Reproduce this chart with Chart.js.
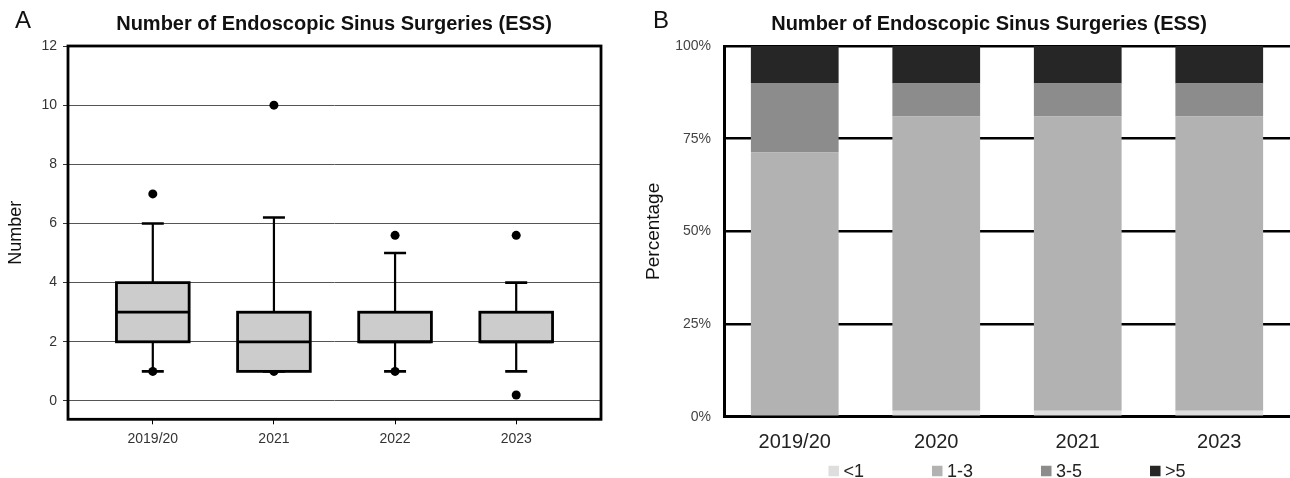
<!DOCTYPE html>
<html>
<head>
<meta charset="utf-8">
<title>Number of Endoscopic Sinus Surgeries (ESS)</title>
<script src="https://cdn.jsdelivr.net/npm/chart.js@4.4.1/dist/chart.umd.min.js"></script>
<style>
    html, body { margin: 0; padding: 0; background: #fff; }
    #wrap { position: relative; width: 1290px; height: 478px; overflow: hidden; }
    .panel { position: absolute; top: 0; height: 478px; }
    #panelA { left: 0; width: 640px; }
    #panelB { left: 640px; width: 650px; }
</style>
</head>
<body>
<div id="wrap">
    <div class="panel" id="panelA"><canvas id="chartA" width="640" height="478"></canvas></div>
    <div class="panel" id="panelB"><canvas id="chartB" width="650" height="478"></canvas></div>
</div>
<script>
// ---------- Panel A: box plot ----------
const yearsA = ['2019/20', '2021', '2022', '2023'];
const whiskerLow = [1, 1, 1, 1];
const q1 = [2, 1, 2, 2];
const median = [3, 2, 2, 2];
const q3 = [4, 3, 3, 3];
const whiskerHigh = [6, 6.2, 5, 4];
const outliers = [[7, 1], [10, 1], [5.6, 1], [5.6, 0.2]];

// ---------- Panel B: 100% stacked bars ----------
const yearsB = ['2019/20', '2020', '2021', '2023'];
const groupsB = ['<1', '1-3', '3-5', '>5'];
const shareLt1 = [0, 1.6, 1.6, 1.6];
const share1to3 = [71.3, 79.4, 79.4, 79.4];
const share3to5 = [18.7, 8.9, 8.9, 8.9];
const shareGt5 = [10, 10.1, 10.1, 10.1];

const TITLE = 'Number of Endoscopic Sinus Surgeries (ESS)';
Chart.defaults.font.family = "'Liberation Sans', Arial, Helvetica, sans-serif";

// 標題與面板字母
function headingPlugin(letter, letterX, titleX) {
    return {
        id: 'heading' + letter,
        afterDraw(chart) {
            const ctx = chart.ctx;
            ctx.save();
            ctx.fillStyle = '#111';
            ctx.textBaseline = 'middle';
            ctx.textAlign = 'center';
            ctx.font = "24px 'Liberation Sans', Arial, sans-serif";
            ctx.fillText(letter, letterX, 21);
            ctx.font = "bold 20px 'Liberation Sans', Arial, sans-serif";
            ctx.fillText(TITLE, titleX, 24);
            ctx.restore();
        }
    };
}

// 箱子外框、鬚線、中位數、繪圖區外框
const boxExtras = {
    id: 'boxExtras',
    afterDatasetsDraw(chart) {
        const ctx = chart.ctx;
        const xs = chart.scales.x, ys = chart.scales.y;
        const meta = chart.getDatasetMeta(0);
        ctx.save();
        ctx.strokeStyle = '#000';
        yearsA.forEach((_, i) => {
            const x = xs.getPixelForValue(i);
            const half = meta.data[i].width / 2;
            const cap = 11;
            const yHi = ys.getPixelForValue(whiskerHigh[i]);
            const yLo = ys.getPixelForValue(whiskerLow[i]);
            const yQ1 = ys.getPixelForValue(q1[i]);
            const yQ3 = ys.getPixelForValue(q3[i]);
            const yMed = ys.getPixelForValue(median[i]);
            ctx.lineWidth = 2.2;
            ctx.beginPath();
            ctx.moveTo(x, yQ3);
            ctx.lineTo(x, yHi);
            ctx.moveTo(x, yQ1);
            ctx.lineTo(x, yLo);
            ctx.stroke();
            ctx.lineWidth = 2.6;
            ctx.beginPath();
            ctx.moveTo(x - cap, yHi);
            ctx.lineTo(x + cap, yHi);
            ctx.moveTo(x - cap, yLo);
            ctx.lineTo(x + cap, yLo);
            ctx.stroke();
            ctx.lineWidth = 2.8;
            ctx.strokeRect(x - half, yQ3, half * 2, yQ1 - yQ3);
            ctx.beginPath();
            ctx.moveTo(x - half, yMed);
            ctx.lineTo(x + half, yMed);
            ctx.stroke();
        });
        const a = chart.chartArea;
        ctx.lineWidth = 2.8;
        ctx.strokeRect(a.left, a.top, a.right - a.left, a.bottom - a.top);
        ctx.restore();
    }
};

const boxData = yearsA.map((_, i) => ({ x: i, y: [q1[i], q3[i]] }));
const outlierData = [];
outliers.forEach((vals, i) => vals.forEach(v => outlierData.push({ x: i, y: v })));

new Chart(document.getElementById('chartA'), {
    type: 'bar',
    data: {
        datasets: [
            {
                type: 'bar', data: boxData, backgroundColor: '#cccccc', borderWidth: 0,
                barPercentage: 0.6, categoryPercentage: 1, order: 1
            },
            {
                type: 'scatter', data: outlierData, pointRadius: 4.5, pointBackgroundColor: '#000',
                pointBorderWidth: 0, order: 2
            }
        ]
    },
    options: {
        responsive: false,
        animation: false,
        layout: { padding: { top: 46, right: 39, bottom: 0, left: 0 } },
        plugins: { legend: { display: false }, tooltip: { enabled: false } },
        scales: {
            x: {
                type: 'linear', min: -0.7, max: 3.7, offset: false,
                afterFit: s => { s.height = 58.7; },
                grid: { drawOnChartArea: false, drawTicks: true, tickLength: 5, tickColor: '#000', offset: false },
                border: { display: false },
                ticks: {
                    stepSize: 1, includeBounds: false, autoSkip: false, maxRotation: 0, padding: 6,
                    color: '#333', font: { size: 14 }, callback: v => yearsA[v] ?? ''
                }
            },
            y: {
                min: -0.62, max: 12,
                afterFit: s => { s.width = 68; },
                grid: { color: '#555', lineWidth: 1, tickLength: 5, tickColor: '#333' },
                border: { display: false },
                ticks: { stepSize: 2, includeBounds: false, padding: 6, color: '#333', font: { size: 14 } },
                title: { display: true, text: 'Number', color: '#111', font: { size: 18 }, padding: { top: 5, bottom: 0 } }
            }
        }
    },
    plugins: [boxExtras, headingPlugin('A', 23, 334)]
});

// 自訂圖例（以繪圖區中心對齊）
const legendB = {
    id: 'legendB',
    afterDraw(chart) {
        const ctx = chart.ctx;
        const a = chart.chartArea;
        const box = 10.5, gap = 4.5, space = 68;
        ctx.save();
        ctx.font = "18px 'Liberation Sans', Arial, sans-serif";
        const widths = chart.data.datasets.map(d => box + gap + ctx.measureText(d.label).width);
        const total = widths.reduce((s, w) => s + w, 0) + space * (widths.length - 1);
        let x = (a.left + a.right) / 2 - total / 2;
        const y = 471;
        ctx.textBaseline = 'middle';
        chart.data.datasets.forEach((d, i) => {
            ctx.fillStyle = d.backgroundColor;
            ctx.fillRect(x, y - box / 2, box, box);
            ctx.fillStyle = '#222';
            ctx.fillText(d.label, x + box + gap, y + 1);
            x += widths[i] + space;
        });
        ctx.restore();
    }
};

new Chart(document.getElementById('chartB'), {
    type: 'bar',
    data: {
        labels: yearsB,
        datasets: [
            { label: groupsB[0], data: shareLt1, backgroundColor: '#dedede' },
            { label: groupsB[1], data: share1to3, backgroundColor: '#b2b2b2' },
            { label: groupsB[2], data: share3to5, backgroundColor: '#8c8c8c' },
            { label: groupsB[3], data: shareGt5, backgroundColor: '#262626' }
        ]
    },
    options: {
        responsive: false,
        animation: false,
        datasets: { bar: { barPercentage: 0.62, categoryPercentage: 1, borderWidth: 0 } },
        layout: { padding: { top: 46, right: 0, bottom: 0, left: 0 } },
        plugins: { legend: { display: false }, tooltip: { enabled: false } },
        scales: {
            x: {
                stacked: true,
                afterFit: s => { s.height = 61.3; },
                grid: { display: false, drawTicks: false },
                border: { display: true, color: '#000', width: 3 },
                ticks: { color: '#222', font: { size: 20 }, padding: 14, maxRotation: 0 }
            },
            y: {
                stacked: true, min: 0, max: 100,
                afterFit: s => { s.width = 84; },
                grid: { color: '#000', lineWidth: 2.5, drawTicks: false },
                border: { display: true, color: '#000', width: 3 },
                ticks: { stepSize: 25, padding: 13, color: '#444', font: { size: 14 }, callback: v => v + '%' },
                title: { display: true, text: 'Percentage', color: '#111', font: { size: 19 }, padding: { top: 2, bottom: 0 } }
            }
        }
    },
    plugins: [legendB, headingPlugin('B', 21, 349)]
});
</script>
</body>
</html>
